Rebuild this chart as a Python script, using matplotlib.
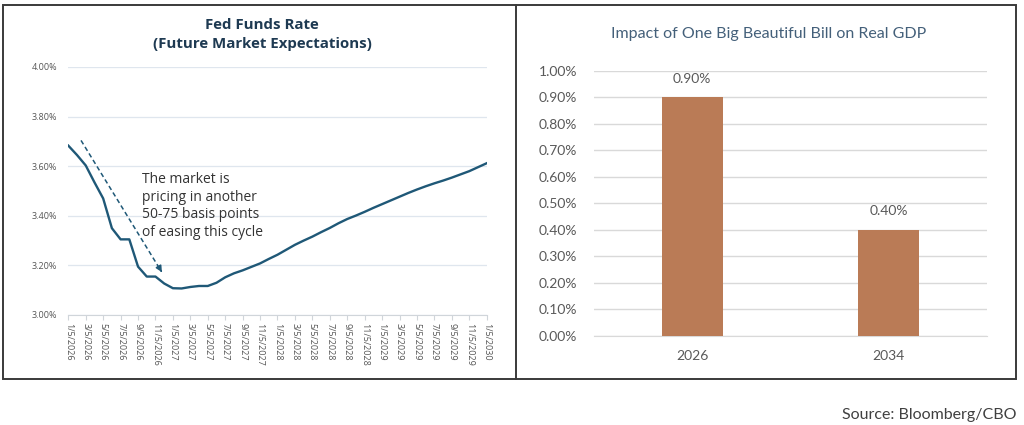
import matplotlib.pyplot as plt
from matplotlib.patches import Rectangle
from matplotlib.lines import Line2D
from matplotlib.ticker import FuncFormatter

# ---------------- data ----------------
# monthly fed funds futures path, 1/5/2026 .. 1/5/2030
months = ["{}/5/{}".format(m, y) for y in range(2026, 2031) for m in range(1, 13)][:49]
fed_rate = [3.683, 3.645, 3.603, 3.535, 3.470, 3.350, 3.305, 3.305, 3.195, 3.155, 3.155, 3.127,
            3.108, 3.107, 3.113, 3.117, 3.117, 3.130, 3.152, 3.168, 3.180, 3.194, 3.208, 3.226,
            3.243, 3.263, 3.283, 3.300, 3.316, 3.334, 3.351, 3.370, 3.387, 3.401, 3.416, 3.432,
            3.447, 3.462, 3.477, 3.492, 3.506, 3.519, 3.531, 3.542, 3.554, 3.567, 3.580, 3.596,
            3.612]
fed_yticks = [3.0, 3.2, 3.4, 3.6, 3.8, 4.0]

gdp_years = ["2026", "2034"]
gdp_impact = [0.90, 0.40]
gdp_yticks = [0.0, 0.1, 0.2, 0.3, 0.4, 0.5, 0.6, 0.7, 0.8, 0.9, 1.0]

LINE_C = "#1f5877"
BAR_C = "#ba7b56"

fig = plt.figure(figsize=(10.24, 4.25), dpi=100)
W, H = 1024., 425.


def px_box(x0, y0, x1, y1):
    # pixel box (top-left origin) -> figure fraction rect
    return [x0 / W, 1 - y1 / H, (x1 - x0) / W, (y1 - y0) / H]


# ---------------- frame ----------------
fig.patches.append(Rectangle((3 / W, 1 - 379 / H), 1013 / W, 374 / H, transform=fig.transFigure,
                             fill=False, edgecolor="#3a3a3a", lw=1.4))
fig.lines.append(Line2D([515.5 / W, 515.5 / W], [1 - 379 / H, 1 - 5 / H], transform=fig.transFigure,
                        color="#3a3a3a", lw=1.4))

# ---------------- left: fed funds ----------------
ax1 = fig.add_axes(px_box(68.3, 67, 486.7, 315))
x = list(range(len(months)))
ax1.plot(x, fed_rate, color=LINE_C, lw=1.7, solid_joinstyle="round")
ax1.set_xlim(0, len(months) - 1)
ax1.set_ylim(3.0, 4.0)
ax1.set_yticks(fed_yticks)
ax1.yaxis.set_major_formatter(FuncFormatter(lambda v, p: "{:.2f}%".format(v)))
ax1.set_xticks(x[::2])
ax1.set_xticklabels(months[::2], rotation=270, fontsize=6.5, color="#555555", family="Open Sans")
ax1.tick_params(axis="y", length=0, labelsize=6.5, labelcolor="#555555", pad=8)
ax1.tick_params(axis="x", length=3.5, color="#d0d5da", pad=2)
for lab in ax1.get_yticklabels():
    lab.set_family("Open Sans")
ax1.grid(axis="y", color="#dfe6ee", lw=0.9)
ax1.set_axisbelow(True)
for s in ["top", "right", "left"]:
    ax1.spines[s].set_visible(False)
ax1.spines["bottom"].set_color("#d0d5da")

fig.text(262 / W, 1 - 34.5 / H, "Fed Funds Rate\n(Future Market Expectations)",
         ha="center", va="center", fontsize=10.8, fontweight="bold", color="#1e3a52",
         family="Open Sans", linespacing=1.4)

ax1.text(8.5, 3.44, "The market is\npricing in another\n50-75 basis points\nof easing this cycle",
         ha="left", va="center", fontsize=10, color="#333333", family="Open Sans", linespacing=1.25)
ax1.plot([1.46, 10.6], [3.704, 3.18], color=LINE_C, lw=1.1, ls=(0, (3, 2)))
ax1.annotate("", xy=(10.9, 3.163), xytext=(10.5, 3.187),
             arrowprops=dict(arrowstyle="-|>", color=LINE_C, lw=1.1, mutation_scale=9))

# ---------------- right: OBBB GDP impact ----------------
ax2 = fig.add_axes(px_box(594, 71, 987, 335.7))
bx = list(range(len(gdp_years)))
bars = ax2.bar(bx, gdp_impact, width=0.31, color=BAR_C, zorder=3)
ax2.set_xlim(-0.5, 1.5)
ax2.set_ylim(0, 1.0)
ax2.set_yticks(gdp_yticks)
ax2.yaxis.set_major_formatter(FuncFormatter(lambda v, p: "{:.2f}%".format(v)))
ax2.set_xticks(bx)
ax2.set_xticklabels(gdp_years)
ax2.tick_params(axis="both", length=0, labelsize=10, labelcolor="#595959", pad=12)
ax2.tick_params(axis="x", pad=10)
for lab in ax2.get_yticklabels() + ax2.get_xticklabels():
    lab.set_family("Lato")
ax2.grid(axis="y", color="#d9d9d9", lw=1.0)
ax2.set_axisbelow(True)
for s in ["top", "right", "left"]:
    ax2.spines[s].set_visible(False)
ax2.spines["bottom"].set_color("#d9d9d9")
for b, v in zip(bars, gdp_impact):
    ax2.annotate("{:.2f}%".format(v), (b.get_x() + b.get_width() / 2, v), xytext=(0, 9),
                 textcoords="offset points", ha="center", va="bottom", fontsize=10,
                 color="#595959", family="Lato")

fig.text(769 / W, 1 - 34 / H, "Impact of One Big Beautiful Bill on Real GDP", ha="center", va="center",
         fontsize=11.5, color="#44607a", family="Lato")

fig.text(1016 / W, 1 - 415 / H, "Source: Bloomberg/CBO", ha="right", va="center",
         fontsize=11.5, color="#404040", family="Lato")

plt.savefig("out.png", dpi=100)
